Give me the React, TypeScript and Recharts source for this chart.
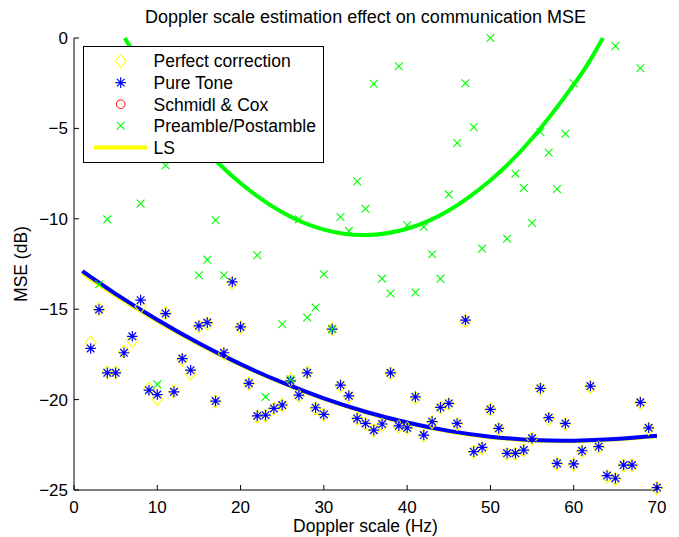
import { ComposedChart, Scatter, Line, XAxis, YAxis, Legend } from "recharts";

// Doppler scale (Hz) for every measured point
const dopplerHz = [
  2, 3, 4, 5, 6, 7, 8, 9, 10, 11, 12, 13, 14, 15, 16, 17, 18, 19, 20, 21, 22, 23, 24, 25, 26, 27, 28, 29, 30,
  31, 32, 33, 34, 35, 36, 37, 38, 39, 40, 41, 42, 43, 44, 45, 46, 47, 48, 49, 50, 51, 52, 53, 54, 55, 56, 57,
  58, 59, 60, 61, 62, 63, 64, 65, 66, 67, 68, 69, 70,
];

const perfectCorrection = [
  -16.85, -15.0, -18.5, -18.5, -17.35, -16.75, -14.85, -19.4, -19.95, -15.2, -19.55, -17.8, -18.55, -15.95,
  -15.8, -20.1, -17.45, -13.55, -16.0, -19.1, -20.95, -20.9, -20.5, -20.3, -18.9, -19.8, -18.5, -20.5, -20.85,
  -16.1, -19.25, -19.85, -21.05, -21.35, -21.7, -21.4, -18.55, -21.5, -21.6, -19.9, -22.0, -21.25, -20.45,
  -20.25, -21.35, -15.65, -22.9, -22.7, -20.55, -21.6, -23.0, -23.0, -22.8, -22.15, -19.4, -21.05, -23.55,
  -21.35, -23.6, -22.85, -19.3, -22.65, -24.25, -24.4, -23.65, -23.65, -20.2, -21.6, -24.9,
];

const pureTone = [
  -17.17, -15.02, -18.52, -18.52, -17.41, -16.5, -14.5, -19.48, -19.72, -15.24, -19.57, -17.73, -18.37, -15.92,
  -15.74, -20.08, -17.41, -13.49, -15.98, -19.1, -20.9, -20.86, -20.49, -20.3, -18.96, -19.75, -18.52, -20.45,
  -20.82, -16.1, -19.2, -19.79, -21.04, -21.32, -21.69, -21.35, -18.52, -21.45, -21.56, -19.85, -21.96, -21.22,
  -20.43, -20.21, -21.32, -15.6, -22.88, -22.64, -20.54, -21.59, -22.97, -22.97, -22.79, -22.14, -19.38, -21.0,
  -23.53, -21.32, -23.56, -22.83, -19.25, -22.6, -24.2, -24.35, -23.62, -23.62, -20.15, -21.56, -24.87,
];

// no Schmidl & Cox point falls inside the plotted range
const schmidlCoxHz: number[] = [];
const schmidlCox: number[] = [];

const preambleHz = [
  3, 4, 8, 10, 11, 15, 16, 17, 18, 22, 23, 25, 26, 27, 28, 29, 30, 31, 32, 33, 34, 35, 36, 37, 38, 39, 40, 41,
  42, 43, 44, 45, 46, 47, 48, 49, 50, 52, 53, 54, 55, 56, 57, 58, 59, 60, 65, 68,
];
const preamble = [
  -13.62, -10.03, -9.16, -19.16, -7.04, -13.12, -12.26, -10.08, -13.12, -12.02, -19.85, -15.83, -18.88, -10.03,
  -15.46, -14.91, -13.07, -16.1, -9.9, -10.67, -7.93, -9.44, -2.53, -13.31, -14.13, -1.56, -10.36, -14.08,
  -10.45, -11.96, -13.31, -8.65, -5.81, -2.5, -4.93, -11.65, 0, -11.1, -7.5, -8.3, -10.23, -5.2, -6.34, -8.35,
  -5.3, -2.5, -0.45, -1.67,
];

// least-squares curves
const lsHz = [1, 5, 10, 15, 20, 25, 30, 35, 40, 45, 50, 55, 60, 65, 70];
const lsPerfect = [
  -13.02, -14.25, -15.66, -16.94, -18.08, -19.08, -19.96, -20.7, -21.3, -21.76, -22.08, -22.26, -22.3, -22.21,
  -22.03,
];
const lsPureTone = [
  -12.9, -14.15, -15.58, -16.88, -18.04, -19.05, -19.93, -20.67, -21.27, -21.73, -22.05, -22.23, -22.27, -22.18,
  -22.0,
];
const lsPreambleHz = [6.1, 8, 10, 15, 20, 25, 30, 35, 40, 45, 50, 55, 60, 62, 63.5];
const lsPreamble = [0, -1.49, -2.84, -5.77, -8.03, -9.64, -10.6, -10.9, -10.55, -9.54, -7.87, -5.56, -2.58, -1.21, 0];

const xTicks = [0, 10, 20, 30, 40, 50, 60, 70];
const yTicks = [-25, -20, -15, -10, -5, 0];

const FONT = '"Liberation Sans", Arial, Helvetica, sans-serif';
const YELLOW = "#ffff00";
const BLUE = "#0000ff";
const RED = "#ff0000";
const GREEN = "#00ff00";

const toPoints = (xs: number[], ys: number[]) => xs.map((x, i) => ({ x, y: ys[i] }));

const perfectData = toPoints(dopplerHz, perfectCorrection);
const pureData = toPoints(dopplerHz, pureTone);
const schmidlData = toPoints(schmidlCoxHz, schmidlCox);
const preambleData = toPoints(preambleHz, preamble);
const lsPerfectData = toPoints(lsHz, lsPerfect);
const lsPureData = toPoints(lsHz, lsPureTone);
const lsPreambleData = toPoints(lsPreambleHz, lsPreamble);

const fmt = (v: number) => String(v).replace("-", "\u2212");

// markers
const Diamond = ({ cx, cy }: any) => (
  <path
    d={`M${cx},${cy - 6.5}L${cx + 5.5},${cy}L${cx},${cy + 6.5}L${cx - 5.5},${cy}Z`}
    fill="none"
    stroke={YELLOW}
    strokeWidth={1.1}
  />
);
const Asterisk = ({ cx, cy }: any) => {
  const r = 5.3;
  const d = 3.8;
  return (
    <path
      d={`M${cx - r},${cy}H${cx + r}M${cx},${cy - r}V${cy + r}M${cx - d},${cy - d}L${cx + d},${cy + d}M${cx - d},${cy + d}L${cx + d},${cy - d}`}
      stroke={BLUE}
      strokeWidth={1.2}
      fill="none"
    />
  );
};
const Ring = ({ cx, cy }: any) => <circle cx={cx} cy={cy} r={4.3} fill="none" stroke={RED} strokeWidth={1} />;
const Cross = ({ cx, cy }: any) => {
  const d = 3.9;
  return (
    <path
      d={`M${cx - d},${cy - d}L${cx + d},${cy + d}M${cx - d},${cy + d}L${cx + d},${cy - d}`}
      stroke={GREEN}
      strokeWidth={1.1}
      fill="none"
    />
  );
};

// inward ticks, MATLAB style
const BottomTick = ({ x, y, payload }: any) => (
  <g>
    <line x1={x} x2={x} y1={y} y2={y - 5} stroke="#000" />
    <text x={x} y={y + 23} textAnchor="middle" fontSize={17} fontFamily={FONT} fill="#000">
      {fmt(payload.value)}
    </text>
  </g>
);
const TopTick = ({ x, y }: any) => <line x1={x} x2={x} y1={y} y2={y + 5} stroke="#000" />;
const LeftTick = ({ x, y, payload }: any) => (
  <g>
    <line x1={x} x2={x + 5} y1={y} y2={y} stroke="#000" />
    <text x={x - 6} y={y + 6} textAnchor="end" fontSize={17} fontFamily={FONT} fill="#000">
      {fmt(payload.value)}
    </text>
  </g>
);
const RightTick = ({ x, y }: any) => <line x1={x} x2={x - 5} y1={y} y2={y} stroke="#000" />;

const legendItems = [
  { name: "Perfect correction", Marker: Diamond },
  { name: "Pure Tone", Marker: Asterisk },
  { name: "Schmidl & Cox", Marker: Ring },
  { name: "Preamble/Postamble", Marker: Cross },
];

const LegendBox = () => (
  <svg width={241} height={117} style={{ display: "block" }}>
    <rect x={0.5} y={0.5} width={240} height={116} fill="#fff" stroke="#000" />
    {legendItems.map(({ name, Marker }, i) => {
      const cy = 15 + i * 21.6;
      return (
        <g key={name}>
          <Marker cx={37.7} cy={cy} />
          <text x={70.5} y={cy + 6.3} fontSize={17.5} fontFamily={FONT} fill="#000">
            {name}
          </text>
        </g>
      );
    })}
    <line x1={11} x2={64} y1={101.4} y2={101.4} stroke={YELLOW} strokeWidth={4} />
    <text x={70.5} y={107.7} fontSize={17.5} fontFamily={FONT} fill="#000">
      LS
    </text>
  </svg>
);

export default function App() {
  return (
    <div
      style={{
        position: "absolute",
        left: 0,
        top: 0,
        width: 679,
        height: 537,
        background: "#fff",
        fontFamily: FONT,
      }}
    >
      <div
        style={{
          position: "absolute",
          left: 0,
          width: 731,
          top: 7,
          textAlign: "center",
          fontSize: 18,
          whiteSpace: "nowrap",
        }}
      >
        Doppler scale estimation effect on communication MSE
      </div>
      <ComposedChart width={679} height={537} margin={{ top: 38, right: 22, bottom: 0, left: 0 }}>
        <XAxis
          xAxisId={0}
          dataKey="x"
          type="number"
          domain={[0, 70]}
          ticks={xTicks}
          height={47}
          tickSize={0}
          tickMargin={0}
          tickLine={false}
          axisLine={{ stroke: "#000" }}
          tick={BottomTick}
          interval={0}
        />
        <XAxis
          xAxisId="top"
          orientation="top"
          dataKey="x"
          type="number"
          domain={[0, 70]}
          ticks={xTicks}
          height={0}
          tickSize={0}
          tickMargin={0}
          tickLine={false}
          axisLine={{ stroke: "#000" }}
          tick={TopTick}
          interval={0}
        />
        <YAxis
          yAxisId={0}
          dataKey="y"
          type="number"
          domain={[-25, 0]}
          ticks={yTicks}
          width={74}
          tickSize={0}
          tickMargin={0}
          tickLine={false}
          axisLine={{ stroke: "#000" }}
          tick={LeftTick}
          interval={0}
        />
        <YAxis
          yAxisId="right"
          orientation="right"
          dataKey="y"
          type="number"
          domain={[-25, 0]}
          ticks={yTicks}
          width={0}
          tickSize={0}
          tickMargin={0}
          tickLine={false}
          axisLine={{ stroke: "#000" }}
          tick={RightTick}
          interval={0}
        />
        <Legend
          layout="vertical"
          align="center"
          verticalAlign="middle"
          wrapperStyle={{ left: 83, top: 46, width: 241, height: 117 }}
          content={LegendBox}
        />
        <Scatter name="Perfect correction" data={perfectData} shape={Diamond} isAnimationActive={false} />
        <Scatter name="Pure Tone" data={pureData} shape={Asterisk} isAnimationActive={false} />
        <Scatter name="Schmidl & Cox" data={schmidlData} shape={Ring} isAnimationActive={false} />
        <Scatter name="Preamble/Postamble" data={preambleData} shape={Cross} isAnimationActive={false} />
        <Line
          data={lsPerfectData}
          dataKey="y"
          type="natural"
          stroke={YELLOW}
          strokeWidth={4}
          dot={false}
          activeDot={false}
          isAnimationActive={false}
        />
        <Line
          data={lsPureData}
          dataKey="y"
          type="natural"
          stroke={BLUE}
          strokeWidth={4}
          dot={false}
          activeDot={false}
          isAnimationActive={false}
        />
        <Line
          data={lsPreambleData}
          dataKey="y"
          type="natural"
          stroke={GREEN}
          strokeWidth={4}
          dot={false}
          activeDot={false}
          isAnimationActive={false}
        />
      </ComposedChart>
      <div
        style={{
          position: "absolute",
          left: 0,
          width: 731,
          top: 516,
          textAlign: "center",
          fontSize: 17.5,
          whiteSpace: "nowrap",
        }}
      >
        Doppler scale (Hz)
      </div>
      <div
        style={{
          position: "absolute",
          left: 21,
          top: 264,
          transform: "translate(-50%, -50%) rotate(-90deg)",
          fontSize: 17.5,
          whiteSpace: "nowrap",
        }}
      >
        MSE (dB)
      </div>
    </div>
  );
}
